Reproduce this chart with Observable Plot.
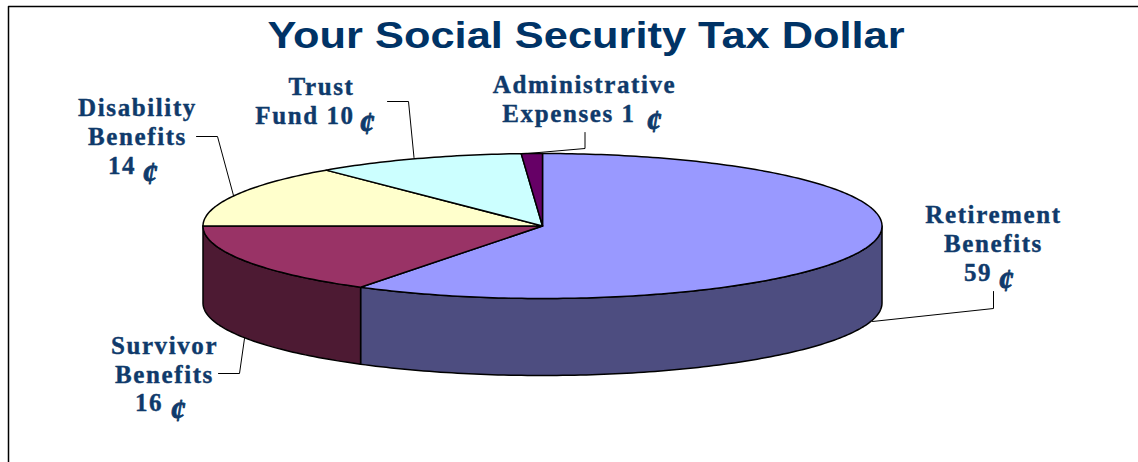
<!DOCTYPE html>
<html>
<head>
<meta charset="utf-8">
<script src="https://cdn.jsdelivr.net/npm/d3@7"></script>
<script src="https://cdn.jsdelivr.net/npm/@observablehq/plot@0.6"></script>
<style>
  html, body { margin: 0; padding: 0; background: #fff; }
  svg { display: block; }
  .pie-label text { letter-spacing: 1.6px; }
  /* The heading is set in an extended cut, widened about its own centre. */
  .chart-title { transform-origin: 586px 48px; transform: scaleX(1.205); }
</style>
</head>
<body>
<div id="chart"></div>
<script>
// Shares of one tax dollar, in cents, clockwise from twelve o'clock.
const categories = ["Retirement", "Survivor", "Disability", "Trust Fund", "Administrative"];
const cents = [59, 16, 14, 10, 1];
const topColors = ["#9999ff", "#993366", "#ffffcc", "#ccffff", "#660066"];
const sideColors = ["#4d4d80", "#4d1a33", null, null, null];

// Text of each callout, one entry per line.
const labelLines = [
  ["Retirement", "Benefits"],
  ["Survivor", "Benefits"],
  ["Disability", "Benefits"],
  ["Trust"],
  ["Administrative"]
];
const valueLinePrefix = ["", "", "", "Fund ", "Expenses "];

// Ellipse of the pie's top face and the thickness of the disc.
const pie = {cx: 542, cy: 225.5, rx: 339.5, ry: 72.5, depth: 77};

// Callout placement: centre of the text block, first baseline, cent-sign offset, leader elbow.
const calloutLayout = [
  {x: 993, y: 222.5, lead: 29, valueX: 977.5, centX: 1006, centY: 290, leader: [[993, 291], [993, 308], [872, 321]]},
  {x: 164, y: 353.5, lead: 28.5, valueX: 148.5, centX: 178, centY: 420, leader: [[218, 373], [239, 373], [244, 338]]},
  {x: 137, y: 115.5, lead: 29, valueX: 121.5, centX: 150, centY: 183, leader: [[196, 136], [217, 136], [233, 195]]},
  {x: 321, y: 94.5, lead: 29, valueX: 304.5, centX: 367, centY: 133, leader: [[387, 101], [408, 101], [413.5, 157]]},
  {x: 584, y: 92.5, lead: 29, valueX: 568.5, centX: 654, centY: 131, leader: [[584.5, 132], [584.5, 148], [527, 153]]}
];

const rim = (turn, drop = 0) => {
  const a = turn * 2 * Math.PI;
  return {x: pie.cx + pie.rx * Math.sin(a), y: pie.cy - pie.ry * Math.cos(a) + drop};
};
const arc = (from, to, drop = 0) => {
  const n = Math.max(2, Math.ceil((to - from) * 360));
  return d3.range(n + 1).map((i) => rim(from + (to - from) * i / n, drop));
};

const total = d3.sum(cents);
const ends = d3.cumsum(cents).map((c) => c / total);
const spans = categories.map((name, i) => ({name, i, from: i ? ends[i - 1] : 0, to: ends[i]}));

// Top faces: centre, then around the rim, then back to the centre.
const topFaces = spans.flatMap((s) => {
  const centre = {x: pie.cx, y: pie.cy};
  return [centre, ...arc(s.from, s.to), centre].map((p) => ({...p, id: s.name, fill: topColors[s.i]}));
});

// Outer wall: only the front half of the disc is visible (quarter to three-quarter turn).
const sideFaces = spans.flatMap((s) => {
  const from = Math.max(s.from, 0.25), to = Math.min(s.to, 0.75);
  if (to <= from) return [];
  const upper = arc(from, to), lower = arc(from, to, pie.depth).reverse();
  return [...upper, ...lower, upper[0]].map((p) => ({...p, id: s.name, fill: sideColors[s.i]}));
});

const leaders = calloutLayout.flatMap((c, i) =>
  c.leader.map(([x, y]) => ({x, y, id: categories[i]}))
);
const nameRows = calloutLayout.flatMap((c, i) =>
  labelLines[i].map((text, k) => ({x: c.x, y: c.y + k * c.lead, text}))
);
const valueRows = calloutLayout.map((c, i) => ({
  x: c.valueX,
  y: c.y + labelLines[i].length * c.lead,
  text: `${valueLinePrefix[i]}${cents[i]}`
}));
const centRows = calloutLayout.map((c) => ({x: c.centX, y: c.centY, text: "¢"}));

const ink = "#0f3a6b";
const serif = "'Liberation Serif', serif";
const labelStyle = {
  x: "x", y: "y", text: "text", fill: ink, stroke: ink, strokeWidth: 0.4,
  fontFamily: serif, fontWeight: 700, fontSize: 25, lineAnchor: "bottom", className: "pie-label"
};

const chart = Plot.plot({
  width: 1138,
  height: 462,
  margin: 0,
  style: {background: "#fff"},
  x: {domain: [0, 1138], range: [0, 1138], axis: null},
  y: {domain: [0, 462], range: [0, 462], axis: null},
  color: {type: "identity"},
  marks: [
    // Page frame, open on the right and at the bottom.
    Plot.line([{x: 8, y: 462}, {x: 8, y: 6}, {x: 1138, y: 6}], {x: "x", y: "y", stroke: "#000", strokeWidth: 1.5}),
    Plot.line(leaders, {x: "x", y: "y", z: "id", stroke: "#000", strokeWidth: 1}),
    Plot.line(sideFaces, {x: "x", y: "y", z: "id", fill: "fill", stroke: "#000", strokeWidth: 1.5, strokeLinejoin: "round"}),
    Plot.line(topFaces, {x: "x", y: "y", z: "id", fill: "fill", stroke: "#000", strokeWidth: 1.5, strokeLinejoin: "round"}),
    Plot.text(["Your Social Security Tax Dollar"], {
      text: (d) => d, x: () => 586, y: () => 48, lineAnchor: "bottom", className: "chart-title",
      fill: "#003366", fontFamily: "'Liberation Sans', sans-serif", fontWeight: 700, fontSize: 36
    }),
    Plot.text(nameRows, labelStyle),
    Plot.text(valueRows, labelStyle),
    Plot.text(centRows, {...labelStyle, fontStyle: "italic", fontSize: 31, strokeWidth: 0.8})
  ]
});
document.getElementById("chart").append(chart);
</script>
</body>
</html>
